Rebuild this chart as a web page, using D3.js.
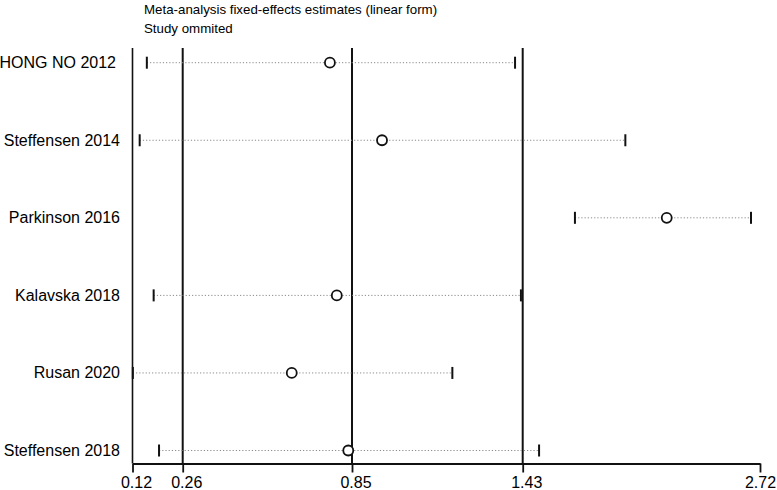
<!DOCTYPE html>
<html>
<head>
<meta charset="utf-8">
<script src="https://cdn.jsdelivr.net/npm/d3@7"></script>
<style>
  html, body { margin: 0; padding: 0; background: #fff; }
  svg { display: block; font-family: "Liberation Sans", Arial, sans-serif; }
</style>
</head>
<body>
<svg id="chart" width="777" height="490"></svg>
<script>
// ---- data ----
const studies = ["HONG NO 2012", "Steffensen 2014", "Parkinson 2016", "Kalavska 2018", "Rusan 2020", "Steffensen 2018"];
const estimates = [0.773, 0.952, 2.213, 0.797, 0.640, 0.837];
const lowerCI   = [0.160, 0.140, 1.714, 0.179, 0.121, 0.194];
const upperCI   = [1.404, 1.988, 2.671, 1.424, 1.191, 1.519];
const tickValues = [0.12, 0.26, 0.85, 1.43, 2.72];
const refLines = [0.26, 0.85, 1.43];
const titleLines = ["Meta-analysis fixed-effects estimates (linear form)", "Study ommited"];

const rows = studies.map((s, i) => ({ study: s, est: estimates[i], lo: lowerCI[i], hi: upperCI[i] }));

const svg = d3.select("#chart");

// axis scale (labels are not evenly spaced in the source; piecewise mapping)
const x = d3.scaleLinear()
  .domain(tickValues)
  .range([132.5, 182.7, 352, 522.7, 760]);

const y = d3.scalePoint()
  .domain(studies)
  .range([62.7, 450.5]);

const plotTop = 48, axisY = 463.5;

// title
svg.append("g").selectAll("text").data(titleLines).join("text")
  .attr("x", 144)
  .attr("y", (d, i) => 13.5 + i * 19.5)
  .attr("font-size", 13.3)
  .attr("fill", "#000")
  .text(d => d);

// left frame line
svg.append("line")
  .attr("x1", x(tickValues[0])).attr("x2", x(tickValues[0]))
  .attr("y1", plotTop).attr("y2", axisY)
  .attr("stroke", "#111").attr("stroke-width", 1.6);

// reference lines
svg.append("g").selectAll("line").data(refLines).join("line")
  .attr("x1", d => x(d)).attr("x2", d => x(d))
  .attr("y1", plotTop).attr("y2", axisY)
  .attr("stroke", "#111").attr("stroke-width", 2);

// x axis
const axis = d3.axisBottom(x)
  .tickValues(tickValues)
  .tickFormat(d3.format(".2f"))
  .tickSize(9)
  .tickSizeOuter(0);

const gAxis = svg.append("g")
  .attr("transform", `translate(0,${axisY})`)
  .call(axis);
gAxis.select(".domain").attr("stroke", "#111").attr("stroke-width", 1.8);
gAxis.selectAll(".tick line").attr("stroke", "#111").attr("stroke-width", 1.8);
gAxis.selectAll(".tick text")
  .attr("font-size", 16)
  .attr("font-family", "\"Liberation Sans\", Arial, sans-serif")
  .attr("fill", "#000")
  .attr("dy", null)
  .attr("y", 24)
  .attr("dx", (d, i) => i === tickValues.length - 1 ? 0 : 3.5);

// study labels
svg.append("g").selectAll("text").data(rows).join("text")
  .attr("x", d => d.study === "HONG NO 2012" ? 116 : 120)
  .attr("y", d => y(d.study) + 5.5)
  .attr("text-anchor", "end")
  .attr("font-size", 16)
  .attr("fill", "#000")
  .text(d => d.study);

const g = svg.append("g").selectAll("g").data(rows).join("g");

// dotted CI lines
g.append("line")
  .attr("x1", d => x(d.lo)).attr("x2", d => x(d.hi))
  .attr("y1", d => y(d.study)).attr("y2", d => y(d.study))
  .attr("stroke", "#8a8a8a").attr("stroke-width", 1)
  .attr("stroke-dasharray", "1.2,2");

// caps
["lo", "hi"].forEach(k => {
  g.append("line")
    .attr("x1", d => x(d[k])).attr("x2", d => x(d[k]))
    .attr("y1", d => y(d.study) - 6).attr("y2", d => y(d.study) + 6)
    .attr("stroke", "#111").attr("stroke-width", 2);
});

// point estimates
g.append("circle")
  .attr("cx", d => x(d.est))
  .attr("cy", d => y(d.study))
  .attr("r", 5)
  .attr("fill", "#fff")
  .attr("stroke", "#111")
  .attr("stroke-width", 1.8);
</script>
</body>
</html>
